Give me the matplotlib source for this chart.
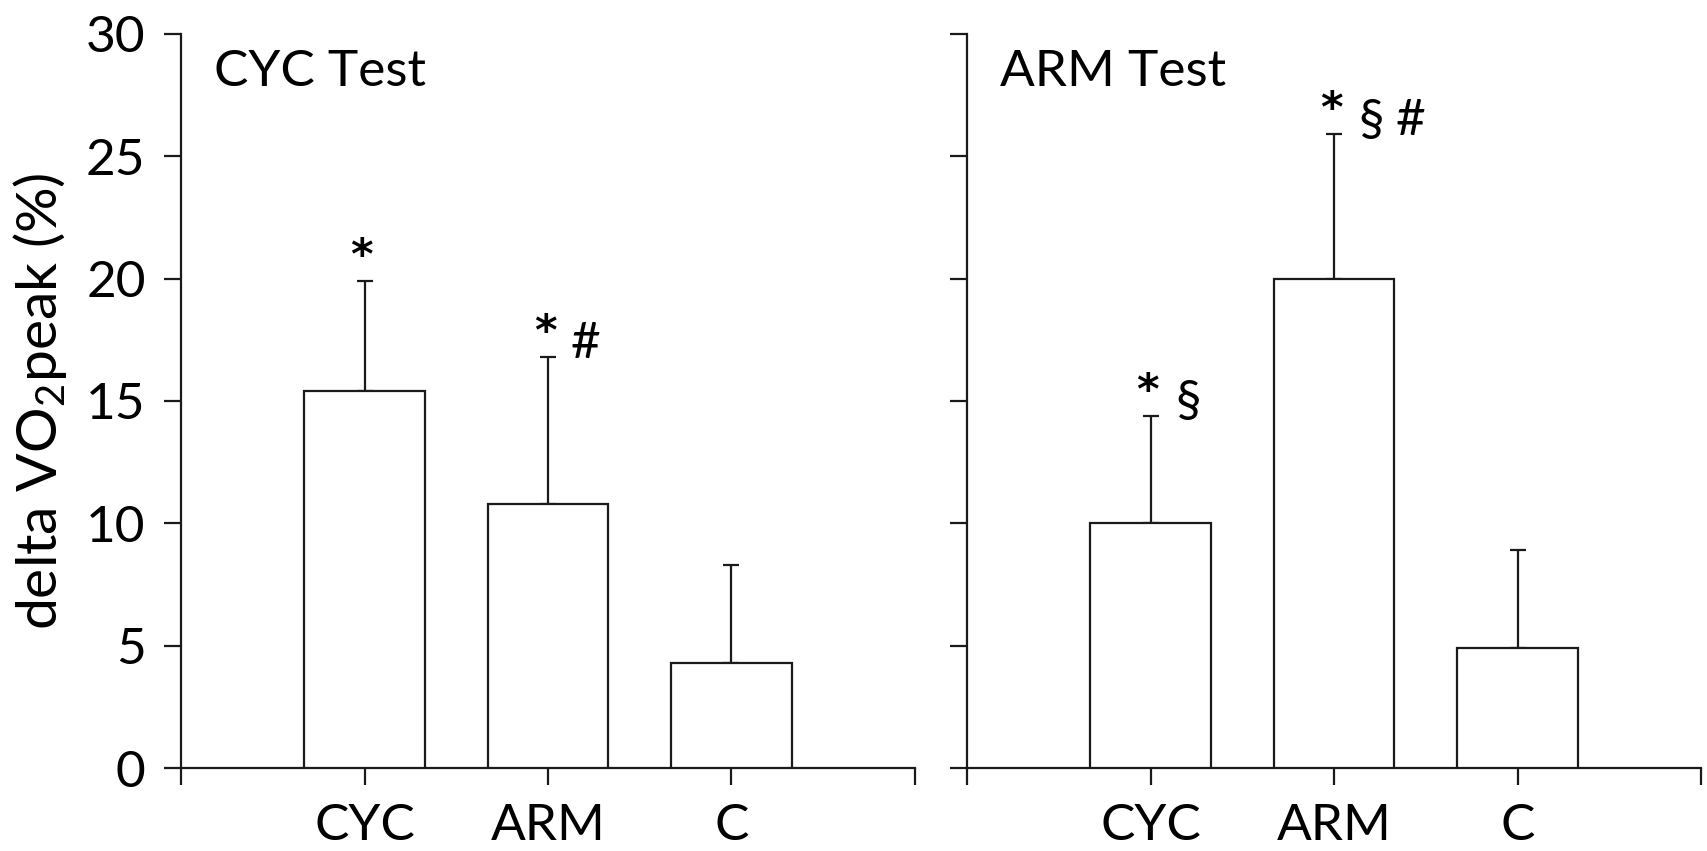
import numpy as np
import matplotlib
matplotlib.use('Agg')
import matplotlib.pyplot as plt

plt.rcParams['font.family'] = ['Lato', 'DejaVu Sans']
plt.rcParams['mathtext.default'] = 'regular'

# datos
grupos = ['CYC', 'ARM', 'C']
paneles = ['CYC Test', 'ARM Test']
medias = [[15.4, 10.8, 4.3],
          [10.0, 20.0, 4.9]]
sd = [[4.5, 6.0, 4.0],
      [4.4, 5.9, 4.0]]
marcas = [['*', '* #', ''],
          ['* §', '* § #', '']]
yticks = [0, 5, 10, 15, 20, 25, 30]

fig = plt.figure(figsize=(17.08, 8.51), dpi=100)
ejes = [fig.add_axes([0.106, 0.0975, 0.4297, 0.8627]),
        fig.add_axes([0.5662, 0.0975, 0.4297, 0.8627])]

x = np.arange(1, len(grupos) + 1)
for k, ax in enumerate(ejes):
    ax.bar(x, medias[k], width=0.655, color='white', edgecolor='#1a1a1a',
           linewidth=1.6, zorder=3)
    ax.errorbar(x, medias[k], yerr=[np.zeros(len(x)), sd[k]], fmt='none',
                ecolor='#1a1a1a', elinewidth=1.6, capsize=6, capthick=1.6,
                zorder=2)
    # simbolos de significacion sobre cada barra
    for i, m in enumerate(marcas[k]):
        if not m:
            continue
        top = medias[k][i] + sd[k][i]
        for j, s in enumerate(m.split()):
            if s == '*':
                ax.annotate(s, (x[i], top), xytext=(-2, 2), textcoords='offset points',
                            ha='center', va='bottom', fontsize=31, fontweight='bold',
                            family='DejaVu Sans')
            else:
                ax.annotate(s, (x[i], top), xytext=(-1 + 28 * j, -7), textcoords='offset points',
                            ha='center', va='bottom', fontsize=37)
    ax.text(0.045, 0.948, paneles[k], transform=ax.transAxes, fontsize=37,
            ha='left', va='center')

    ax.set_xlim(0, 4)
    ax.set_ylim(0, 30)
    ax.set_xticks([0, 1, 2, 3, 4])
    ax.set_xticklabels([''] + grupos + [''])
    ax.set_yticks(yticks)
    ax.spines['top'].set_visible(False)
    ax.spines['right'].set_visible(False)
    for sp in ['left', 'bottom']:
        ax.spines[sp].set_linewidth(1.6)
        ax.spines[sp].set_color('#1a1a1a')
    ax.tick_params(length=12.5, width=1.6, color='#1a1a1a', labelsize=37, pad=13)
    if k == 1:
        ax.set_yticklabels([])
    else:
        ax.set_ylabel('delta VO$_2$peak (%)', fontsize=41, labelpad=12)

fig.savefig('out.png', dpi=100, facecolor='white')
